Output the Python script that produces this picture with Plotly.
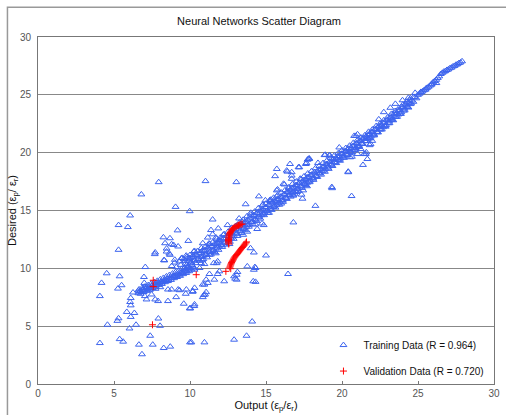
import plotly.graph_objects as go

# ---- Training data: dense band ----
band_x = [6.6,6.7,6.8,6.9,7.0,7.1,7.2,7.3,7.4,7.5,7.6,7.7,7.8,7.9,8.0,8.1,8.2,8.3,8.4,8.5,8.6,8.7,8.8,8.9,9.0,9.1,9.2,9.3,9.4,9.5,9.6,9.7,9.8,9.9,10.0,
          6.75,6.95,7.15,7.35,7.55,7.75,7.95,8.15,8.35,8.55,8.75,8.95,9.15,9.35,9.55,9.75,9.95,10.1,10.2,10.3,
          6.65,6.85,7.05,7.25,7.45,7.65,7.85,8.05,8.25,8.45,8.65,8.85,9.05,9.25,9.45,9.65,9.85,
          8.8,9.0,9.1,9.3,9.4,9.6,9.7,9.8,9.9,10.0,10.1,10.2,10.3,10.4,10.5,10.6,10.7,10.8,10.9,11.0,11.1,11.2,11.3,11.4,11.5,11.6,11.7,11.8,11.9,
          12.0,12.1,12.2,12.3,12.4,12.5,12.6,12.7,12.8,12.9,13.0,13.1,13.2,13.3,13.4,13.5,13.6,13.7,13.8,13.9,14.0,14.1,14.2,14.3,14.4,14.5,14.6,14.7,14.8,14.9,
          15.0,15.1,15.2,15.3,15.4,15.5,15.6,15.7,15.8,15.9,16.0,16.1,16.2,16.3,16.4,16.5,16.6,16.7,16.8,16.9,17.0,17.1,17.2,17.3,17.4,17.5,17.6,17.7,17.8,17.9,
          18.0,18.1,18.2,18.3,18.4,18.5,18.6,18.7,18.8,18.9,19.0,19.1,19.2,19.3,19.4,19.5,19.6,19.7,19.8,19.9,20.0,20.1,20.2,20.3,20.4,20.5,20.6,20.7,20.8,20.9,
          21.0,21.1,21.2,21.3,21.4,21.5,21.6,21.7,21.8,21.9,22.0,22.1,22.2,22.3,22.4,22.5,22.6,22.7,22.8,22.9,23.0,23.1,23.2,23.3,23.4,23.5,23.6,23.7,23.8,23.9,
          24.0,24.1,24.2,24.3,24.4,24.5,24.6,24.7,24.8,24.9,25.0,25.2,25.4,25.6,25.8,26.0,26.2,26.4,26.5,26.6,26.7,26.8,26.9,27.0,27.1,27.2,27.3,27.4,27.5,27.6,27.7,27.8,27.9,
          10.3,10.8,11.3,11.7,12.2,12.6,13.1,13.5,14.0,14.3,14.8,15.2,15.7,16.0,16.5,16.8,17.3,17.7,
          25.1,25.3,25.5,25.7,25.9,26.1,26.3]
band_y = [7.85,8.0,7.95,8.15,8.1,8.25,8.2,8.35,8.3,8.5,8.45,8.6,8.55,8.75,8.7,8.85,8.8,8.95,9.0,9.1,9.0,9.2,9.15,9.3,9.35,9.4,9.5,9.45,9.6,9.65,9.7,9.8,9.75,9.9,10.0,
          7.8,7.95,8.05,8.15,8.3,8.4,8.55,8.65,8.8,8.9,9.0,9.15,9.25,9.35,9.5,9.6,9.75,9.9,10.1,10.0,
          8.18,8.3,8.43,8.55,8.68,8.8,8.92,9.05,9.17,9.3,9.42,9.55,9.67,9.79,9.92,10.04,10.17,
          10.2,10.5,10.1,10.6,10.3,10.8,10.4,11.0,10.6,10.9,10.5,11.1,10.7,11.2,10.8,11.3,11.0,11.5,11.1,11.6,11.2,11.8,11.4,11.9,11.5,12.1,11.7,12.2,11.9,
          12.4,12.0,12.6,12.2,12.8,12.4,13.0,12.6,13.2,12.8,13.4,13.0,13.6,13.2,13.8,13.4,14.0,13.6,14.2,13.8,14.4,14.0,14.6,14.2,14.8,14.4,15.0,14.6,15.1,14.8,
          15.3,15.0,15.5,15.1,15.7,15.3,15.8,15.5,16.0,15.7,16.2,15.9,16.4,16.1,16.6,16.3,16.8,16.5,17.0,16.7,17.2,16.9,17.4,17.1,17.5,17.3,17.7,17.4,17.9,17.6,
          18.1,17.8,18.3,18.0,18.4,18.2,18.6,18.4,18.8,18.6,19.0,18.8,19.2,19.0,19.4,19.2,19.5,19.4,19.7,19.5,19.9,19.7,20.1,19.9,20.3,20.1,20.4,20.2,20.6,20.4,
          20.8,20.6,21.0,20.8,21.2,21.0,21.4,21.2,21.6,21.4,21.8,21.6,22.0,21.8,22.2,22.0,22.4,22.2,22.6,22.4,22.8,22.7,23.0,22.9,23.2,23.1,23.4,23.3,23.7,23.5,
          23.9,23.8,24.1,24.0,24.3,24.2,24.5,24.4,24.8,24.7,25.0,25.2,25.4,25.6,25.8,26.1,26.3,26.6,26.8,26.9,27.0,27.05,27.15,27.2,27.3,27.35,27.45,27.5,27.6,27.65,27.75,27.8,27.9,
          11.5,10.7,12.1,11.3,12.9,12.1,13.7,12.9,14.8,13.8,15.5,14.8,16.2,15.6,16.9,16.3,17.7,17.1,
          25.1,25.3,25.45,25.7,25.95,26.2,26.45]

# upper and lower edges of the band
edge_up_x = [9.5,9.75,10.0,10.25,10.5,10.75,11.0,11.25,11.5,11.75,12.0,12.25,12.5,12.75,13.0,13.25,13.5,13.75,14.0,14.25,14.5,14.75,
             15.0,15.25,15.5,15.75,16.0,16.25,16.5,16.75,17.0,17.25,17.5,17.75,18.0,18.25,18.5,18.75,19.0,19.25,19.5,19.75,
             20.0,20.25,20.5,20.75,21.0,21.25,21.5,21.75,22.0,22.25,22.5,22.75,23.0,23.25,23.5,23.75,24.0,24.25,24.5]
edge_up_y = [10.9,11.1,11.15,11.45,11.5,11.75,11.85,12.15,12.25,12.55,12.65,12.95,13.15,13.5,13.65,13.95,14.2,14.5,14.65,14.9,15.2,15.45,
             15.6,15.9,16.1,16.3,16.55,16.75,17.0,17.3,17.5,17.75,17.95,18.2,18.4,18.65,18.85,19.1,19.3,19.55,19.75,19.95,
             20.2,20.4,20.6,20.85,21.05,21.3,21.5,21.8,22.0,22.3,22.5,22.8,23.05,23.35,23.6,23.85,24.15,24.4,24.7]
edge_lo_x = [9.625,9.875,10.125,10.375,10.625,10.875,11.125,11.375,11.625,11.875,12.125,12.375,12.625,12.875,13.125,13.375,13.625,13.875,
             14.125,14.375,14.625,14.875,15.125,15.375,15.625,15.875,16.125,16.375,16.625,16.875,17.125,17.375,17.625,17.875,
             18.125,18.375,18.625,18.875,19.125,19.375,19.625,19.875,20.125,20.375,20.625,20.875,21.125,21.375,21.625,21.875,
             22.125,22.375,22.625,22.875,23.125,23.375,23.625,23.875,24.125,24.375]
edge_lo_y = [10.0,10.15,10.3,10.45,10.65,10.8,10.95,11.2,11.4,11.6,11.85,12.05,12.3,12.55,12.8,13.05,13.3,13.6,
             13.8,14.1,14.3,14.6,14.8,15.05,15.25,15.5,15.75,16.0,16.2,16.45,16.7,16.95,17.2,17.45,
             17.65,17.9,18.1,18.35,18.6,18.85,19.1,19.3,19.55,19.8,20.0,20.25,20.5,20.75,21.0,21.25,
             21.5,21.75,22.0,22.25,22.55,22.8,23.1,23.35,23.65,23.9]

# interior of the band
mid_a_x = [9.7,9.95,10.2,10.45,10.7,10.95,11.2,11.45,11.7,11.95,12.2,12.45,12.7,12.95,13.2,13.45,13.7,13.95,14.2,14.45,14.7,14.95,
           15.2,15.45,15.7,15.95,16.2,16.45,16.7,16.95,17.2,17.45,17.7,17.95,18.2,18.45,18.7,18.95,19.2,19.45,19.7,19.95,
           20.2,20.45,20.7,20.95,21.2,21.45,21.7,21.95,22.2,22.45,22.7,22.95,23.2,23.45,23.7,23.95,24.2,24.45,24.7]
mid_a_y = [10.65,10.82,10.99,11.15,11.35,11.52,11.71,11.91,12.11,12.31,12.55,12.8,13.05,13.3,13.55,13.8,14.05,14.3,14.54,14.78,15.02,15.25,
           15.48,15.7,15.93,16.15,16.4,16.65,16.9,17.15,17.38,17.6,17.83,18.05,18.29,18.53,18.77,19.0,19.23,19.45,19.68,19.9,
           20.13,20.35,20.58,20.8,21.05,21.3,21.55,21.8,22.05,22.32,22.59,22.85,23.12,23.4,23.67,23.95,24.23,24.52,24.8]
mid_b_x = [9.8,10.05,10.3,10.55,10.8,11.05,11.3,11.55,11.8,12.05,12.3,12.55,12.8,13.05,13.3,13.55,13.8,14.05,14.3,14.55,14.8,15.05,
           15.3,15.55,15.8,16.05,16.3,16.55,16.8,17.05,17.3,17.55,17.8,18.05,18.3,18.55,18.8,19.05,19.3,19.55,19.8,20.05,
           20.3,20.55,20.8,21.05,21.3,21.55,21.8,22.05,22.3,22.55,22.8,23.05,23.3,23.55,23.8,24.05,24.3,24.55]
mid_b_y = [10.33,10.49,10.66,10.84,11.01,11.19,11.39,11.59,11.79,12.0,12.25,12.5,12.75,13.0,13.25,13.5,13.75,14.0,14.24,14.47,14.71,14.95,
           15.17,15.4,15.62,15.85,16.1,16.35,16.6,16.85,17.07,17.3,17.52,17.75,17.99,18.22,18.46,18.7,18.92,19.15,19.37,19.6,
           19.82,20.05,20.27,20.5,20.75,21.0,21.25,21.5,21.77,22.03,22.3,22.55,22.83,23.1,23.38,23.65,23.95,24.25]

# ---- Training data: scattered points ----
scat_x = [7.94,6.80,9.05,9.98,6.06,5.30,5.91,9.18,8.25,8.68,9.89,8.92,8.46,5.30,7.68,8.64,8.29,7.06,4.52,5.37,6.97,4.18,5.5,
          5.26,4.07,6.25,6.1,6.06,6.1,5.84,6.34,6.1,5.3,5.22,4.57,6.45,6.02,7.92,8.03,7.38,5.37,5.6,4.07,6.64,7.55,8.27,8.7,6.84,10.0,
          6.99,7.79,8.12,8.44,7.14,7.36,7.73,8.05,8.55,6.71,6.88,7.03,7.14,7.47,7.71,7.9,8.55,9.09,9.31,9.72,10.17,9.59,10.02,10.28,
          11.02,13.05,17.79,18.85,19.18,16.58,17.14,17.62,15.71,15.6,16.36,16.69,16.15,15.71,14.53,14.96,15.28,13.66,16.8,17.45,17.4,17.01,19.35,18.25,
          11.49,13.23,13.44,12.47,11.86,11.38,11.49,11.17,11.71,11.93,10.84,11.28,14.42,14.74,14.85,13.77,13.98,16.8,15.0,14.27,16.45,14.31,13.12,13.07,12.97,
          11.93,11.28,11.75,11.06,10.95,10.99,10.91,10.19,10.3,9.98,14.09,13.72,12.9,10.09,10.95,9.87,10.3,10.63,10.73,10.95,
          19.33,20.41,21.38,21.67,21.56,21.02,20.54,21.23,21.12,21.88,21.99,19.82,19.18,18.42,17.84,17.66,17.19,22.42,22.75,23.18,23.51,23.98,24.37,24.81,
          21.99,20.8,21.02,25.89,26.21,25.19,25.52,
          16.41,17.73,17.84,18.9,20.26,20.65,21.45,20.41,20.63,15.76,16.21,15.32,17.34,16.69,16.69,20.91,21.67,21.82,21.6,
          8.36,8.79,9.22,7.71,8.46,8.68,8.31,9.0,9.44,7.01,6.62,8.79,9.22,9.76,10.3,10.84,11.17,11.6,12.25,11.06,10.84,
          11.82,11.56,11.82,11.28,12.9,13.07,14.2,14.16,14.2,13.77,14.31]
scat_y = [17.45,16.39,15.31,14.94,14.57,13.74,13.57,13.28,12.68,12.6,12.37,12.02,11.71,11.6,11.23,11.28,10.71,10.11,9.57,9.31,9.25,8.74,8.54,
          8.25,7.6,7.91,7.43,7.09,6.8,6.23,6.14,5.8,5.68,5.46,5.12,5.12,4.8,5.66,5.03,4.17,3.88,3.66,3.54,3.4,3.4,3.11,3.23,2.57,3.6,
          8.74,8.74,8.83,8.89,8.37,8.17,8.23,8.37,8.17,8.03,8.17,7.6,7.31,7.74,7.31,7.17,7.17,7.51,8.11,7.8,7.97,6.94,6.54,6.74,
          17.54,17.45,19.45,19.79,19.79,19.02,18.74,19.02,18.59,17.97,18.45,18.02,17.31,16.74,16.22,15.88,15.79,15.54,16.31,16.74,16.02,16.6,16.93,15.4,
          14.22,14.31,14.03,13.74,13.45,13.31,12.94,12.66,12.66,12.45,12.17,12.08,13.4,13.88,13.74,13.17,11.74,13.97,11.11,10.11,9.51,8.83,9.68,9.45,9.11,
          9.74,9.51,10.45,9.02,8.59,7.74,7.69,8.03,6.88,6.54,5.4,4.17,3.83,3.6,3.6,10.03,9.88,10.03,10.45,10.37,
          17.03,18.31,18.94,19.45,19.88,19.88,19.6,20.31,20.59,20.74,21.02,20.45,19.73,19.11,19.45,19.11,18.74,22.88,23.5,23.88,24.22,24.53,24.74,25.17,
          21.74,21.45,21.59,25.88,26.02,25.25,25.54,
          18.36,19.39,19.51,19.82,20.11,19.65,19.88,18.36,16.25,16.82,17.25,15.94,16.37,17.74,18.31,21.45,21.31,20.65,20.03,
          12.17,12.08,11.89,11.37,11.45,11.17,10.69,10.74,10.88,8.31,8.08,8.17,8.17,8.17,8.31,8.6,8.74,9.02,8.88,7.94,7.51,
          9.51,10.45,10.6,11.17,9.31,9.02,9.88,8.88,11.37,10.17,10.03]

# ---- Validation data ----
val_x = [12.55,12.54,12.53,12.53,12.54,12.55,12.56,12.57,12.59,12.62,12.65,12.69,12.74,12.80,12.87,12.95,13.03,13.11,13.19,13.27,13.35,13.43,
         12.62,12.65,12.68,12.71,12.74,12.78,12.82,12.86,12.91,12.96,13.02,13.08,13.14,13.2,13.26,13.32,13.38,13.44,13.5,13.56,13.62,13.68,13.72,
         10.41,12.36,12.68,7.58,7.58,7.53]
val_y = [12.1,12.2,12.3,12.4,12.5,12.6,12.7,12.8,12.9,13.0,13.1,13.2,13.3,13.4,13.48,13.56,13.62,13.68,13.72,13.76,13.8,13.83,
         10.1,10.2,10.3,10.4,10.5,10.6,10.7,10.8,10.9,11.0,11.1,11.2,11.3,11.4,11.5,11.6,11.7,11.8,11.9,12.0,12.1,12.2,12.28,
         9.45,9.74,9.97,8.97,8.42,5.12]

x_ticks = [0, 5, 10, 15, 20, 25, 30]
y_ticks = [0, 5, 10, 15, 20, 25, 30]

train_x = band_x + edge_up_x + edge_lo_x + mid_a_x + mid_b_x + scat_x
train_y = band_y + edge_up_y + edge_lo_y + mid_a_y + mid_b_y + scat_y

FONT = "Liberation Sans, Arial, sans-serif"

fig = go.Figure()
fig.add_trace(go.Scatter(
    x=train_x, y=train_y, mode="markers", name="Training Data (R = 0.964)",
    legendgroup="a",
    marker=dict(symbol="triangle-up-open", size=6, color="#3D64EE",
                line=dict(width=1, color="#3D64EE"))))
fig.add_trace(go.Scatter(
    x=val_x, y=val_y, mode="markers", name="Validation Data (R = 0.720)",
    legendgroup="b",
    marker=dict(symbol="cross-thin", size=5, color="#FF0000",
                line=dict(width=1, color="#FF0000"))))

fig.update_layout(
    width=506, height=415,
    margin=dict(l=38, r=6, t=37, b=29),
    paper_bgcolor="white", plot_bgcolor="white",
    font=dict(family=FONT, size=10, color="#333"),
    title=dict(text="Neural Networks Scatter Diagram", x=259/506, xref="container",
               xanchor="center", y=1 - 21/415, yanchor="middle",
               font=dict(family=FONT, size=11, color="#111")),
    showlegend=True,
    legend=dict(x=0.626, y=0.154, xanchor="left", yanchor="top",
                bgcolor="rgba(0,0,0,0)", font=dict(family=FONT, size=10, color="#111"),
                traceorder="grouped", tracegroupgap=7, itemwidth=30),
    shapes=[dict(type="rect", xref="paper", yref="paper",
                 x0=-0.067, x1=1.2, y0=-0.3, y1=1.086,
                 line=dict(color="#999", width=1.5), layer="below")],
)
fig.update_xaxes(range=[0, 30], tickvals=x_ticks, ticktext=[str(v) for v in x_ticks],
                 showgrid=False, zeroline=False, showline=True, mirror=True,
                 linecolor="#777", linewidth=1, ticks="inside", ticklen=3, tickcolor="#777",
                 tickfont=dict(size=10, color="#555"), ticklabeloverflow="allow",
                 title=dict(text="Output (ε<sub>p</sub>/ε<sub>r</sub>)", standoff=2,
                            font=dict(size=11, color="#111")))
fig.update_yaxes(range=[0, 30], tickvals=y_ticks, ticktext=[str(v) for v in y_ticks],
                 showgrid=True, gridcolor="#888", gridwidth=1, zeroline=False,
                 showline=True, mirror=True, linecolor="#777", linewidth=1, ticks="",
                 tickfont=dict(size=10, color="#555"), ticklabelstandoff=4,
                 title=dict(text="Desired (ε<sub>p</sub>/ ε<sub>r</sub>)", standoff=0,
                            font=dict(size=11, color="#111")))

fig.write_html("out.html", config={"displayModeBar": False},
               post_script="document.body.style.margin='0';document.body.style.overflow='hidden';")
